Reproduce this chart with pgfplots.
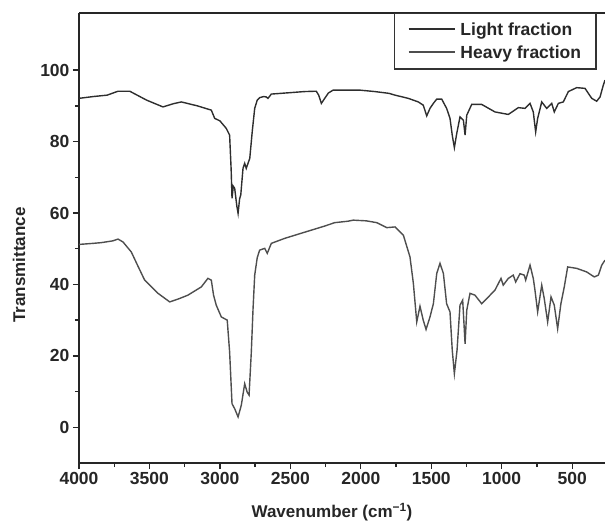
\documentclass[border=0pt]{standalone}
\usepackage{fontspec}
\setmainfont{Liberation Sans}
\usepackage{pgfplots}
\pgfplotsset{compat=1.18}
\definecolor{cLight}{HTML}{2E2E2E}
\definecolor{cHeavy}{HTML}{4E4E4E}

\begin{document}
\begin{tikzpicture}
\begin{axis}[
  scale only axis, width=526pt, height=450pt,
  x dir=reverse, xmin=267, xmax=4000, ymin=-10, ymax=116,
  axis lines=left, axis line style={-, line width=1.6pt, black!85},
  xtick={500,1000,...,4000}, ytick={0,20,...,100},
  minor x tick num=1, minor y tick num=1,
  tick align=outside, major tick length=6pt, minor tick length=4pt,
  tick style={line width=1.3pt, black!85},
  scaled ticks=false, /pgf/number format/1000 sep={},
  /pgf/number format/assume math mode=true,
  tick label style={font=\bfseries\fontsize{17.5}{19}\selectfont, black!85},
  xlabel={Wavenumber (cm\textsuperscript{−1})},
  ylabel={Transmittance},
  label style={font=\bfseries\fontsize{17}{19}\selectfont, black!85},
  xlabel style={at={(axis description cs:0.481,-0.122)}, anchor=base},
  ylabel style={at={(axis description cs:-0.114,0.44)}, anchor=center},
  legend cell align=left,
  legend style={at={(0.599,1)}, anchor=north west, draw=black!80, line width=1.2pt,
    font=\bfseries\fontsize{17.5}{19}\selectfont, text=black!85,
    inner xsep=13pt, inner ysep=7pt, row sep=5pt, column sep=3pt},
  legend image code/.code={\draw[#1, line width=1.8pt] (0pt,0.5pt) -- (46pt,0.5pt);},
  clip=true,
]
\addplot[cLight, line width=1.4pt] coordinates {
(4000,92.1)(3900,92.6)(3800,93.0)(3723,94.1)(3640,94.1)(3520,91.6)(3404,89.7)(3330,90.6)(3274,91.1)
(3160,90.0)(3061,88.8)(3037,86.5)(3000,85.8)(2955,83.7)(2931,81.8)(2920,72.0)(2914,64.1)(2905,67.5)
(2895,66.9)(2880,62.0)(2871,59.9)(2860,64.0)(2852,65.0)(2836,72.5)(2824,73.9)(2813,72.5)(2788,75.3)
(2770,83.0)(2753,89.3)(2735,91.6)(2718,92.3)(2690,92.6)(2671,92.5)(2659,92.1)(2635,93.3)
(2500,93.7)(2400,94.0)(2316,94.1)(2299,93.0)(2280,90.7)(2256,92.1)(2230,93.6)(2197,94.4)
(2148,94.4)(2006,94.4)(1900,94.0)(1800,93.5)(1757,93.0)(1663,92.1)(1592,91.1)(1557,90.2)
(1532,87.2)(1509,89.3)(1485,90.7)(1461,91.9)(1426,91.9)(1391,89.3)(1367,86.5)(1351,81.8)
(1336,78.3)(1319,82.3)(1296,86.9)(1272,86.0)(1260,81.8)(1248,87.4)(1213,90.4)(1142,90.4)
(1048,88.3)(953,87.6)(882,89.5)(835,89.3)(799,90.7)(776,88.3)(759,82.7)(745,86.5)(716,91.1)
(681,89.3)(645,90.7)(627,88.3)(598,90.7)(563,91.1)(527,94.0)(468,95.1)(409,94.9)(361,92.1)
(326,91.3)(302,92.5)(279,95.8)(267,97.2)
};
\addlegendentry{Light fraction}
\addplot[cHeavy, line width=1.4pt] coordinates {
(4000,51.2)(3900,51.5)(3842,51.7)(3760,52.2)(3723,52.7)(3688,51.9)(3629,49.1)(3580,45.0)(3534,41.2)
(3439,37.5)(3356,35.1)(3290,36.0)(3227,37.0)(3132,39.3)(3085,41.7)(3061,41.2)(3045,37.0)(3026,34.2)
(2990,30.9)(2948,30.0)(2931,21.1)(2914,6.6)(2895,5.2)(2871,2.9)(2848,6.2)(2824,12.2)(2807,9.9)
(2793,9.0)(2777,21.1)(2765,33.0)(2753,42.6)(2735,47.5)(2718,49.6)(2682,50.1)(2664,48.7)(2635,51.5)
(2540,52.9)(2450,54.0)(2351,55.2)(2260,56.3)(2185,57.3)(2091,57.7)(2053,58.0)(1960,57.8)(1887,57.3)
(1816,55.9)(1757,56.1)(1698,53.8)(1651,47.7)(1627,40.3)(1603,29.5)(1580,33.9)(1557,30.0)(1537,27.4)
(1509,30.9)(1485,34.6)(1461,43.1)(1438,45.9)(1414,43.1)(1391,34.6)(1367,32.3)(1351,21.6)(1336,15.0)
(1317,21.6)(1296,34.2)(1277,35.6)(1260,23.4)(1248,32.8)(1225,37.5)(1190,37.0)(1142,34.6)(1107,36.0)
(1048,38.4)(1005,41.7)(989,39.8)(953,41.7)(918,42.6)(901,40.7)(870,43.0)(840,42.6)(830,41.2)
(799,45.4)(776,41.7)(764,38.4)(745,32.3)(716,39.8)(698,36.0)(674,29.5)(650,36.5)(627,34.2)
(603,27.6)(580,34.6)(556,39.3)(532,44.9)(468,44.5)(397,43.5)(343,42.1)(314,42.6)(290,45.4)(267,46.8)
};
\addlegendentry{Heavy fraction}
\draw[line width=1.6pt, black!85] (rel axis cs:0,1) -- (rel axis cs:1,1);
\coordinate (bl) at (rel axis cs:0,0);
\coordinate (tr) at (rel axis cs:1,1);
\end{axis}
\pgfresetboundingbox
\path[use as bounding box] ([xshift=-79pt,yshift=-60pt]bl) rectangle ([yshift=13pt]tr);
\end{tikzpicture}
\end{document}
